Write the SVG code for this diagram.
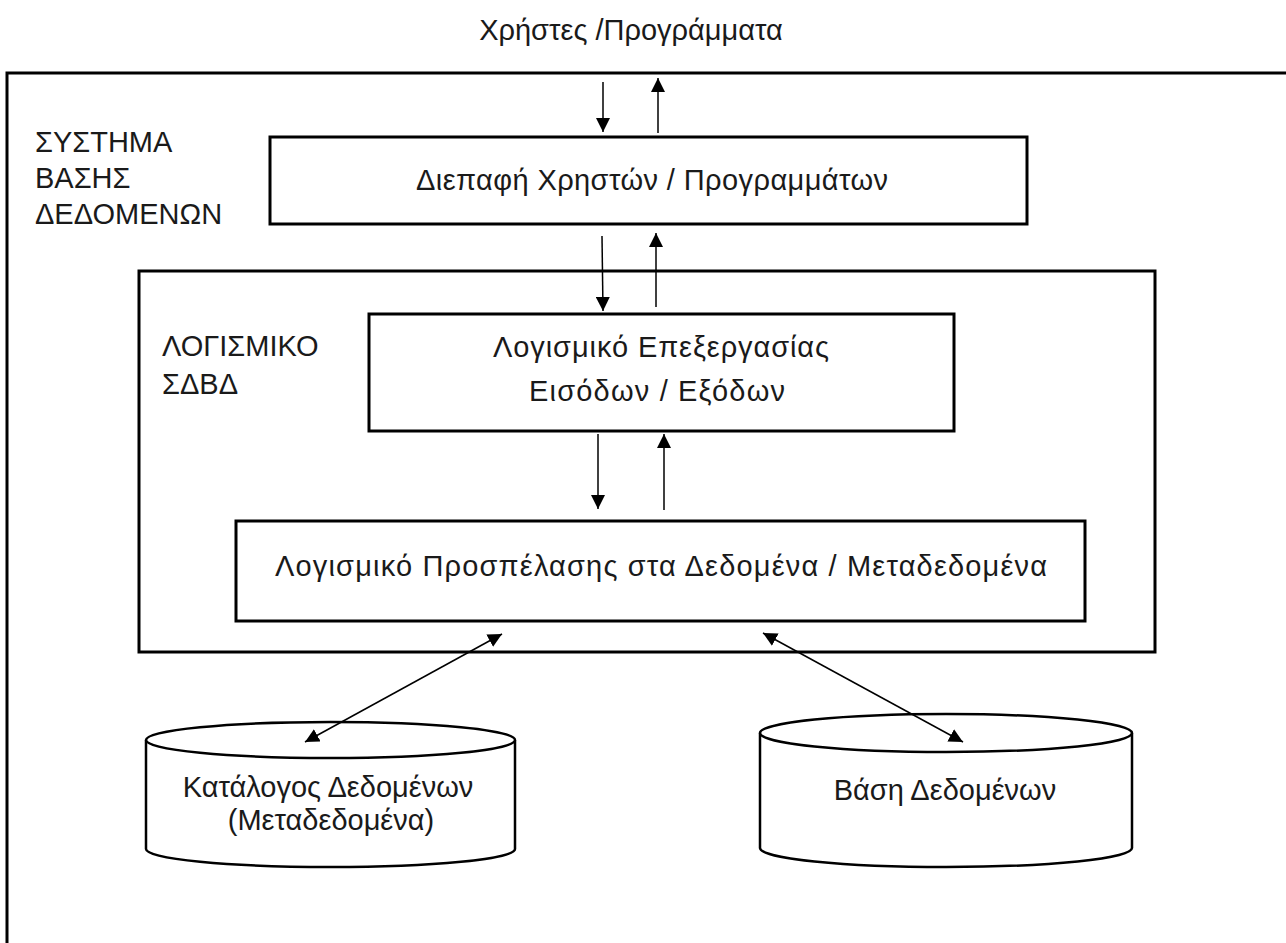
<svg xmlns="http://www.w3.org/2000/svg" width="1286" height="943" viewBox="0 0 1286 943">
<style>
.box{fill:#fff;stroke:#000;stroke-width:3}
.cyl{fill:#fff;stroke:#000;stroke-width:2.5}
.t{font-family:"Liberation Sans",Arial,sans-serif;font-size:29px;fill:#1a1a1a}
.c{text-anchor:middle}
.arr{stroke:#000;stroke-width:1.5;fill:none}
</style>
<defs>
<marker id="ah" viewBox="0 0 14 14" refX="14" refY="7" markerWidth="14" markerHeight="14" markerUnits="userSpaceOnUse" orient="auto-start-reverse">
<path d="M0,0 L14,7 L0,14 z" fill="#000"/>
</marker>
</defs>
<rect width="1286" height="943" fill="#fff"/>
<text class="t c" x="631" y="40">Χρήστες /Προγράμματα</text>
<g id="system">
<rect class="box" x="7" y="73" width="1300" height="900"/>
<text class="t" x="35" y="152">ΣΥΣΤΗΜΑ</text>
<text class="t" x="35" y="188">ΒΑΣΗΣ</text>
<text class="t" x="35" y="224">ΔΕΔΟΜΕΝΩΝ</text>
</g>
<g id="interface">
<rect class="box" x="270" y="137" width="757" height="87"/>
<text class="t c" x="652" y="190" textLength="472" lengthAdjust="spacing">Διεπαφή Χρηστών / Προγραμμάτων</text>
</g>
<g id="dbms">
<rect class="box" x="139" y="271" width="1016" height="381"/>
<text class="t" x="162" y="356">ΛΟΓΙΣΜΙΚΟ</text>
<text class="t" x="162" y="394">ΣΔΒΔ</text>
</g>
<g id="io">
<rect class="box" x="369" y="314" width="585" height="117"/>
<text class="t c" x="661" y="357" textLength="336" lengthAdjust="spacing">Λογισμικό Επεξεργασίας</text>
<text class="t c" x="657" y="401" textLength="256" lengthAdjust="spacing">Εισόδων / Εξόδων</text>
</g>
<g id="access">
<rect class="box" x="236" y="521" width="849" height="100"/>
<text class="t c" x="661" y="576" textLength="772" lengthAdjust="spacing">Λογισμικό Προσπέλασης στα Δεδομένα / Μεταδεδομένα</text>
</g>
<g id="catalog">
<path class="cyl" d="M146,740 L146,849 A184.5,18 0 0 0 515,849 L515,740"/>
<ellipse class="cyl" cx="330.5" cy="740" rx="184.5" ry="18"/>
<text class="t c" x="328" y="797">Κατάλογος Δεδομένων</text>
<text class="t c" x="331" y="830">(Μεταδεδομένα)</text>
</g>
<g id="database">
<path class="cyl" d="M760,733 L760,848 A186,19 0 0 0 1132,848 L1132,733"/>
<ellipse class="cyl" cx="946" cy="733" rx="186" ry="19"/>
<text class="t c" x="945" y="800">Βάση Δεδομένων</text>
</g>
<g id="connectors">
<line class="arr" x1="603" y1="82" x2="603" y2="132" marker-end="url(#ah)"/>
<line class="arr" x1="658" y1="133" x2="658" y2="78" marker-end="url(#ah)"/>
<line class="arr" x1="602" y1="236" x2="603" y2="311" marker-end="url(#ah)"/>
<line class="arr" x1="656" y1="307" x2="656" y2="233" marker-end="url(#ah)"/>
<line class="arr" x1="598" y1="434" x2="598" y2="509" marker-end="url(#ah)"/>
<line class="arr" x1="664" y1="510" x2="664" y2="434" marker-end="url(#ah)"/>
<line class="arr" x1="502" y1="634" x2="305" y2="742" marker-start="url(#ah)" marker-end="url(#ah)"/>
<line class="arr" x1="763" y1="633" x2="963" y2="742" marker-start="url(#ah)" marker-end="url(#ah)"/>
</g>
</svg>
